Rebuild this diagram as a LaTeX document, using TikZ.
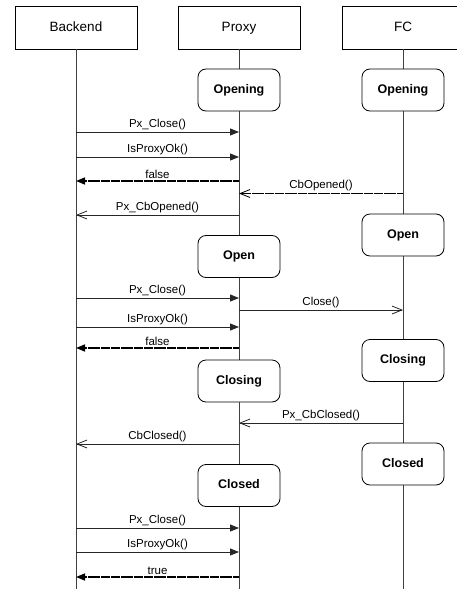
\documentclass[tikz,border=0pt]{standalone}
\usepackage{fontspec}
\setmainfont{Liberation Sans}
\usetikzlibrary{arrows.meta}
\begin{document}
\begin{tikzpicture}[x=1pt,y=-1pt,
  every node/.style={font=\fontsize{11.5}{13}\selectfont},
  head/.style={draw, line width=0.8pt, fill=white, minimum width=122pt, minimum height=43pt,
    text height=10pt, text depth=3pt, font=\fontsize{13.5}{16}\selectfont},
  state/.style={draw, line width=0.8pt, fill=white, rounded corners=8pt, minimum width=82pt,
    minimum height=42pt, text height=9pt, text depth=2.5pt,
    font=\bfseries\fontsize{12.5}{15}\selectfont},
  life/.style={draw=black!75, line width=0.8pt},
  call/.style={draw=black!85, line width=0.8pt, -{Triangle[length=9pt,width=7pt]}},
  ret/.style={draw=black, line width=1.5pt, dash pattern=on 3pt off 0.3pt,
    -{Triangle[length=9pt,width=7pt]}},
  async/.style={draw=black!85, line width=0.8pt, -{Straight Barb[length=10pt,width=8pt]}},
  asyncret/.style={draw=black, line width=1.5pt, dash pattern=on 3pt off 0.3pt,
    -{Straight Barb[length=10pt,width=8pt,line width=0.8pt]}},
  lbl/.style={above=0.6pt, inner sep=1pt}
]
\useasboundingbox (0,0) rectangle (457,589);
\clip (0,0) rectangle (457,589);

% lifeline heads
\node[head] (bk) at (76,27.5) {Backend};
\node[head] (px) at (239,27.5) {Proxy};
\node[head] (fc) at (403,27.5) {FC};

% lifelines
\coordinate (bkend) at (76,590);
\coordinate (pxend) at (239,590);
\coordinate (fcend) at (403,590);
\draw[life] (bk.south) -- (bkend);
\draw[life] (px.south) -- (pxend);
\draw[life] (fc.south) -- (fcend);

% states
\node[state] (pxopening) at (239,90) {Opening};
\node[state] (fcopening) at (403,90) {Opening};
\node[state] (fcopen) at (403,235) {Open};
\node[state] (pxopen) at (239,256.5) {Open};
\node[state] (fcclosing) at (403,360.5) {Closing};
\node[state] (pxclosing) at (239,381) {Closing};
\node[state] (fcclosed) at (403,464) {Closed};
\node[state] (pxclosed) at (239,485.5) {Closed};

% messages
\draw[call] (bk |- 0,132) -- node[lbl] {Px\_Close()} (px |- 0,132);
\draw[call] (bk |- 0,157) -- node[lbl] {IsProxyOk()} (px |- 0,157);
\draw[ret] (px |- 0,181) -- node[lbl] {false} (bk |- 0,181);
\draw[asyncret] (fc |- 0,193.5) -- node[lbl] {CbOpened()} (px |- 0,193.5);
\draw[async] (px |- 0,215) -- node[lbl] {Px\_CbOpened()} (bk |- 0,215);

\draw[call] (bk |- 0,298) -- node[lbl] {Px\_Close()} (px |- 0,298);
\draw[async] (px |- 0,310) -- node[lbl] {Close()} (fc |- 0,310);
\draw[call] (bk |- 0,327) -- node[lbl] {IsProxyOk()} (px |- 0,327);
\draw[ret] (px |- 0,348) -- node[lbl] {false} (bk |- 0,348);

\draw[async] (fc |- 0,423) -- node[lbl] {Px\_CbClosed()} (px |- 0,423);
\draw[async] (px |- 0,444) -- node[lbl] {CbClosed()} (bk |- 0,444);

\draw[call] (bk |- 0,528) -- node[lbl] {Px\_Close()} (px |- 0,528);
\draw[call] (bk |- 0,552) -- node[lbl] {IsProxyOk()} (px |- 0,552);
\draw[ret] (px |- 0,577) -- node[lbl] {true} (bk |- 0,577);
\end{tikzpicture}
\end{document}
